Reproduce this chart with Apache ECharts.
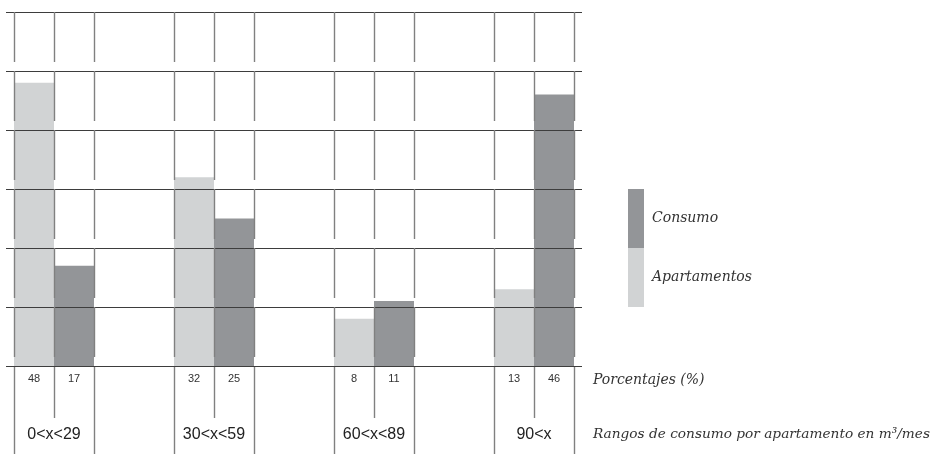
<!DOCTYPE html>
<html>
<head>
<meta charset="utf-8">
<script src="https://cdn.jsdelivr.net/npm/echarts@6/dist/echarts.min.js"></script>
<style>
  html, body { margin: 0; padding: 0; background: #fff; }
  #chart { width: 940px; height: 454px; }
</style>
</head>
<body>
<div id="chart"></div>
<script>
// datos
const ranges = ['0<x<29', '30<x<59', '60<x<89', '90<x'];
const apartamentos = [48, 32, 8, 13];
const consumo = [17, 25, 11, 46];
const yTicks = [0, 10, 20, 30, 40, 50, 60];

const LIGHT = '#d1d3d4';
const DARK = '#939598';
const SERIF = '"DejaVu Serif", serif';
const SANS = '"Liberation Sans", Arial, sans-serif';

// 4 columnas por grupo: apartamentos, consumo, vacio, vacio (el ultimo grupo sin vacios)
const nCols = (ranges.length - 1) * 4 + 2;
const cols = [];
const aptCol = [];
const conCol = [];
for (let i = 0; i < nCols; i++) {
  cols.push(String(i));
  const g = Math.floor(i / 4), k = i % 4;
  aptCol.push(k === 0 ? apartamentos[g] : null);
  conCol.push(k === 1 ? consumo[g] : null);
}

// bordes verticales (no hay borde en la 4a columna de cada grupo)
const bounds = [];
for (let b = 0; b <= nCols; b++) if (b % 4 !== 3) bounds.push(b);

const vSegs = [];
bounds.forEach(function (b) {
  for (let j = 0; j < yTicks.length - 1; j++) vSegs.push([b, j]);
  vSegs.push([b, -1]); // tramo bajo la base
});

var chart = echarts.init(document.getElementById('chart'));

var option = {
  animation: false,
  grid: { left: 14, right: 366, top: 12, bottom: 88 },
  title: [
    { text: 'Porcentajes (%)', left: 593, top: 373, padding: 0,
      textStyle: { fontFamily: SERIF, fontStyle: 'italic', fontWeight: 'normal', fontSize: 14, color: '#333' } },
    { text: 'Rangos de consumo por apartamento en m³/mes', left: 593, top: 427, padding: 0,
      textStyle: { fontFamily: SERIF, fontStyle: 'italic', fontWeight: 'normal', fontSize: 13.7, color: '#333' } }
  ],
  legend: {
    data: ['Consumo', 'Apartamentos'],
    orient: 'vertical',
    left: 628, top: 189, padding: 0,
    itemWidth: 16, itemHeight: 59, itemGap: 0,
    icon: 'rect',
    textStyle: { fontFamily: SERIF, fontStyle: 'italic', fontSize: 14, color: '#333', padding: [0, 0, 0, 3] }
  },
  xAxis: [
    {
      type: 'category', data: cols,
      axisLine: { show: false }, axisTick: { show: false },
      axisLabel: {
        interval: 0, margin: 7, fontFamily: SANS, fontSize: 11, color: '#333',
        formatter: function (v, i) {
          const x = aptCol[i] != null ? aptCol[i] : conCol[i];
          return x == null ? '' : String(x);
        }
      }
    },
    {
      type: 'value', min: 0, max: nCols, interval: 1, position: 'bottom',
      axisLine: { show: false }, axisTick: { show: false }, splitLine: { show: false },
      axisLabel: {
        margin: 61, fontFamily: SANS, fontSize: 16, color: '#222',
        formatter: function (v) {
          return v % 4 === 1 ? ranges[(v - 1) / 4] : '';
        }
      }
    }
  ],
  yAxis: {
    type: 'value', min: 0, max: 60, interval: 10,
    axisLine: { show: false }, axisTick: { show: false }, axisLabel: { show: false },
    splitLine: { show: false }
  },
  series: [
    { name: 'Apartamentos', type: 'bar', data: aptCol, barWidth: '100%', barGap: '-100%',
      itemStyle: { color: LIGHT } },
    { name: 'Consumo', type: 'bar', data: conCol, barWidth: '100%', barGap: '-100%',
      itemStyle: { color: DARK } },
    {
      type: 'custom', xAxisIndex: 1, clip: false, z: 3, silent: true,
      data: yTicks.map(function (v) { return [v]; }),
      renderItem: function (params, api) {
        const a = api.coord([0, api.value(0)]);
        const b = api.coord([nCols, api.value(0)]);
        const y = Math.round(a[1]) + 0.5;
        return { type: 'line', shape: { x1: a[0] - 8, y1: y, x2: b[0] + 8, y2: y },
          style: { stroke: '#3d3d3d', lineWidth: 1 } };
      }
    },
    {
      type: 'custom', xAxisIndex: 1, clip: false, z: 3, silent: true,
      data: vSegs,
      renderItem: function (params, api) {
        const bx = api.value(0), band = api.value(1);
        let x, y1, y2;
        if (band < 0) {
          const p = api.coord([bx, 0]);
          x = p[0]; y1 = p[1] + 1;
          y2 = bx % 4 === 1 ? p[1] + 52 : api.getHeight();
        } else {
          const top = api.coord([bx, yTicks[band + 1]]);
          const bot = api.coord([bx, yTicks[band]]);
          x = top[0]; y1 = top[1]; y2 = bot[1] - 9;
        }
        x = Math.round(x) + 0.5;
        return { type: 'line', shape: { x1: x, y1: y1, x2: x, y2: y2 },
          style: { stroke: '#808080', lineWidth: 1.4 } };
      }
    }
  ]
};

option && chart.setOption(option);
</script>
</body>
</html>
